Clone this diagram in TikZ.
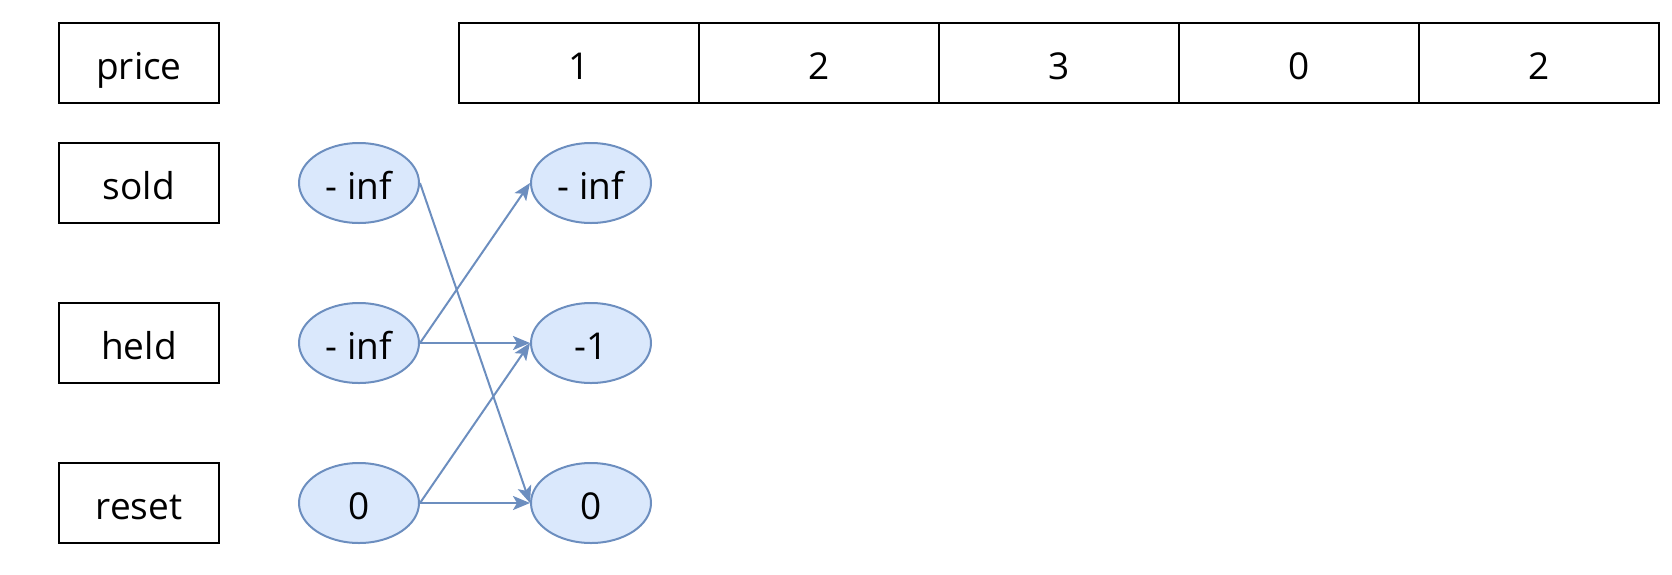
\documentclass[tikz,border=0pt]{standalone}
\usepackage{fontspec}
\setmainfont{Open Sans}
\usetikzlibrary{arrows.meta,shapes.geometric}
\definecolor{edgeblue}{HTML}{6C8EBF}
\definecolor{fillblue}{HTML}{DAE8FC}
\tikzset{
  txt/.style={font=\fontsize{37}{44}\selectfont, text height=32pt, text depth=0pt},
  labelbox/.style={txt, draw=black, line width=2pt, minimum width=160pt, minimum height=80pt, inner sep=0pt},
  cellbox/.style={txt, draw=black, line width=2pt, minimum width=240pt, minimum height=80pt, inner sep=0pt},
  statenode/.style={txt, ellipse, draw=edgeblue, fill=fillblue, line width=2pt, minimum width=120pt, minimum height=80pt, inner sep=0pt},
  link/.style={draw=edgeblue, line width=2pt, -{Stealth[length=17pt, width=14pt, inset=4pt]}}
}
\begin{document}
\begin{tikzpicture}[x=1pt, y=-1pt]
\useasboundingbox (0,0) rectangle (1672,574);
% labels
\node[labelbox] (price) at (139,63) {price};
\node[labelbox] (sold) at (139,183) {sold};
\node[labelbox] (held) at (139,343) {held};
\node[labelbox] (reset) at (139,503) {reset};
% price array
\node[cellbox] (p1) at (579,63) {1};
\node[cellbox] (p2) at (819,63) {2};
\node[cellbox] (p3) at (1059,63) {3};
\node[cellbox] (p4) at (1299,63) {0};
\node[cellbox] (p5) at (1539,63) {2};
% states
\node[statenode] (s0) at (359,183) {- inf};
\node[statenode] (h0) at (359,343) {- inf};
\node[statenode] (r0) at (359,503) {0};
\node[statenode] (s1) at (591,183) {- inf};
\node[statenode] (h1) at (591,343) {-1};
\node[statenode] (r1) at (591,503) {0};
% transitions
\draw[link] (s0.east) -- (r1.west);
\draw[link] (h0.east) -- (s1.west);
\draw[link] (h0.east) -- (h1.west);
\draw[link] (r0.east) -- (h1.west);
\draw[link] (r0.east) -- (r1.west);
\end{tikzpicture}
\end{document}
